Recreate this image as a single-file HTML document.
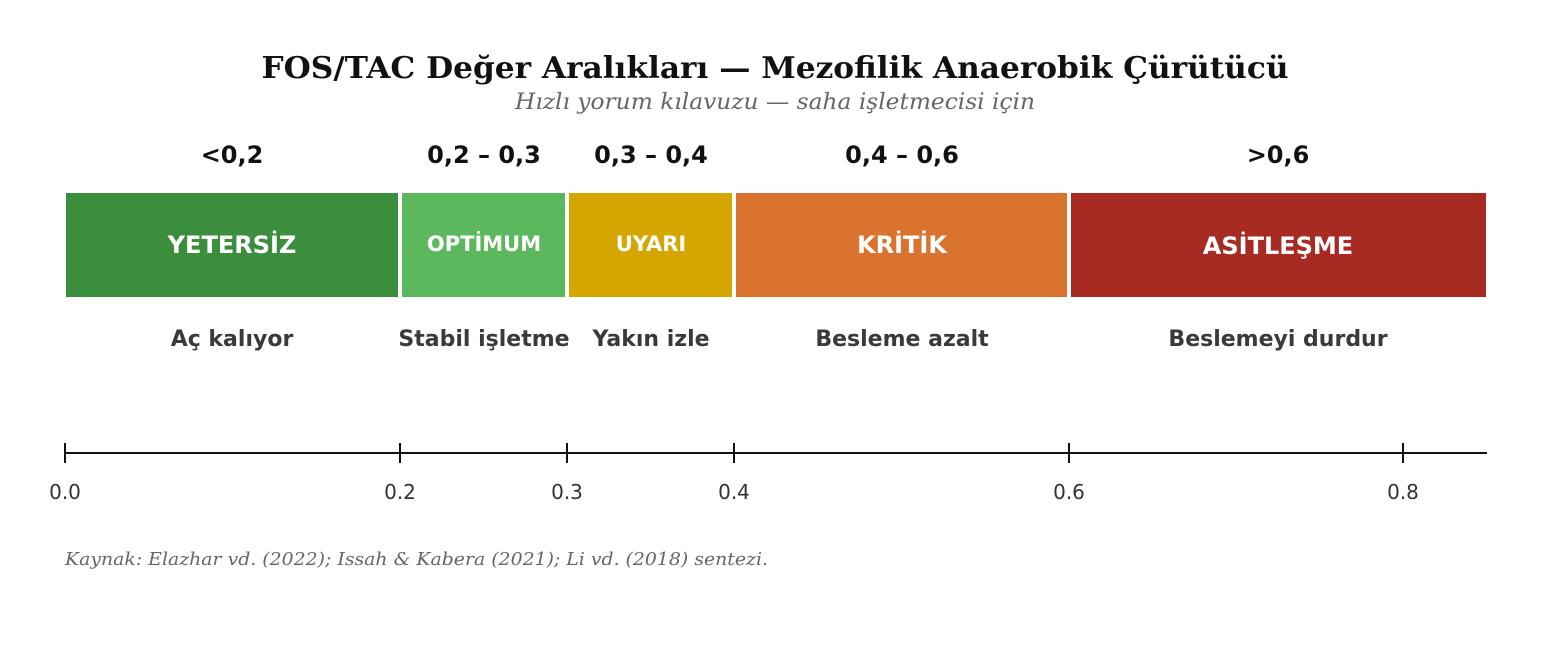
<!DOCTYPE html>
<html><head><meta charset="utf-8"><style>
body{margin:0;background:#fff;}
svg text{font-family:"DejaVu Sans","Liberation Sans",sans-serif;}
</style></head><body>
<svg width="1552" height="655" xmlns="http://www.w3.org/2000/svg">
<rect width="1552" height="655" fill="#fff"/>
<text x="775" y="78" text-anchor="middle" textLength="1027" lengthAdjust="spacingAndGlyphs" style="font-family:'DejaVu Serif',serif;font-weight:bold;font-size:30px" fill="#111">FOS/TAC Değer Aralıkları — Mezofilik Anaerobik Çürütücü</text>
<text x="775" y="109" text-anchor="middle" textLength="520" lengthAdjust="spacingAndGlyphs" style="font-family:'DejaVu Serif',serif;font-style:italic;font-size:22px" fill="#666">Hızlı yorum kılavuzu — saha işletmecisi için</text>
<g font-weight="bold" font-size="24" fill="#111" text-anchor="middle">
<text x="232" y="163">&lt;0,2</text>
<text x="484" y="163">0,2 – 0,3</text>
<text x="651" y="163">0,3 – 0,4</text>
<text x="902" y="163">0,4 – 0,6</text>
<text x="1278" y="163">&gt;0,6</text>
</g>
<rect x="66" y="193" width="332" height="104" fill="#3a8e3c"/>
<rect x="402" y="193" width="163" height="104" fill="#5cb85c"/>
<rect x="569" y="193" width="163" height="104" fill="#d6a600"/>
<rect x="736" y="193" width="331" height="104" fill="#d9732e"/>
<rect x="1071" y="193" width="415" height="104" fill="#a72b22"/>
<g font-weight="bold" fill="#fff" text-anchor="middle">
<text x="232" y="253" font-size="24">YETERSİZ</text>
<text x="484" y="251" font-size="21">OPTİMUM</text>
<text x="651" y="251" font-size="21">UYARI</text>
<text x="902" y="253" font-size="24">KRİTİK</text>
<text x="1278" y="254" font-size="24">ASİTLEŞME</text>
</g>
<g font-weight="bold" fill="#3a3a3a" text-anchor="middle" font-size="22">
<text x="232" y="346">Aç kalıyor</text>
<text x="484" y="346">Stabil işletme</text>
<text x="651" y="346">Yakın izle</text>
<text x="902" y="346">Besleme azalt</text>
<text x="1278" y="346">Beslemeyi durdur</text>
</g>
<line x1="65" y1="453" x2="1487" y2="453" stroke="#111" stroke-width="2"/>
<g stroke="#111" stroke-width="2">
<line x1="65" y1="443" x2="65" y2="463"/><line x1="400" y1="443" x2="400" y2="463"/><line x1="567" y1="443" x2="567" y2="463"/><line x1="734" y1="443" x2="734" y2="463"/><line x1="1069" y1="443" x2="1069" y2="463"/><line x1="1403" y1="443" x2="1403" y2="463"/>
</g>
<g fill="#333" text-anchor="middle" font-size="20">
<text x="65" y="499">0.0</text><text x="400" y="499">0.2</text><text x="567" y="499">0.3</text><text x="734" y="499">0.4</text><text x="1069" y="499">0.6</text><text x="1403" y="499">0.8</text>
</g>
<text x="65" y="565" textLength="703" lengthAdjust="spacingAndGlyphs" style="font-family:'DejaVu Serif',serif;font-style:italic;font-size:18px" fill="#666">Kaynak: Elazhar vd. (2022); Issah &amp; Kabera (2021); Li vd. (2018) sentezi.</text>
</svg>
</body></html>
